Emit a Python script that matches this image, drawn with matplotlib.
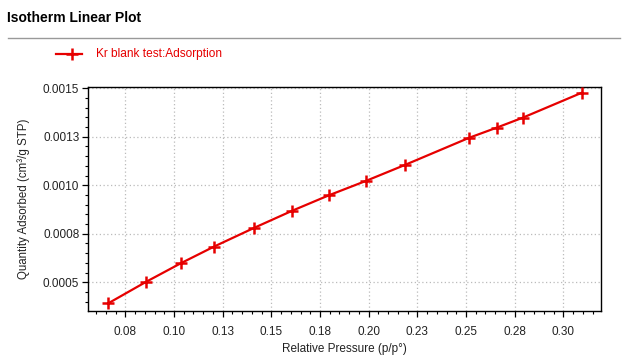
import matplotlib
matplotlib.use("Agg")
import matplotlib.pyplot as plt
from matplotlib.ticker import MultipleLocator, FixedLocator, FixedFormatter
from matplotlib.lines import Line2D

plt.rcParams['font.family'] = ['Liberation Sans', 'DejaVu Sans']

# Kr blank test, adsorption branch
rel_pressure = [0.0663, 0.0858, 0.1035, 0.1206, 0.1413, 0.1608, 0.1795,
                0.1985, 0.2187, 0.2517, 0.2658, 0.2791, 0.3095]
qty_adsorbed = [0.000392, 0.000503, 0.000598, 0.000684, 0.000781, 0.000869, 0.000948,
                0.001022, 0.001105, 0.001245, 0.001297, 0.001348, 0.001477]

x_ticks = [0.075, 0.100, 0.125, 0.150, 0.175, 0.200, 0.225, 0.250, 0.275, 0.300]
x_tick_labels = ["0.08", "0.10", "0.13", "0.15", "0.18", "0.20", "0.23", "0.25", "0.28", "0.30"]
y_ticks = [0.0005, 0.00075, 0.0010, 0.00125, 0.0015]
y_tick_labels = ["0.0005", "0.0008", "0.0010", "0.0013", "0.0015"]

RED = "#e60000"

fig = plt.figure(figsize=(6.25, 3.56), dpi=100)
ax = fig.add_axes([0.1413, 0.1264, 0.8208, 0.6301])

ax.plot(rel_pressure, qty_adsorbed, color=RED, lw=1.6, marker="+", ms=8, mew=1.8, zorder=3)

ax.set_xlim(0.0560, 0.3195)
ax.set_ylim(0.000352, 0.001508)

ax.xaxis.set_major_locator(FixedLocator(x_ticks))
ax.xaxis.set_major_formatter(FixedFormatter(x_tick_labels))
ax.xaxis.set_minor_locator(MultipleLocator(0.005))
ax.yaxis.set_major_locator(FixedLocator(y_ticks))
ax.yaxis.set_major_formatter(FixedFormatter(y_tick_labels))
ax.yaxis.set_minor_locator(MultipleLocator(0.00005))

ax.tick_params(which="major", direction="out", length=4.5, width=0.9, labelsize=8.5,
               labelcolor="#222222", pad=2)
ax.tick_params(which="minor", direction="out", length=2.2, width=0.8)
ax.tick_params(axis="x", pad=6)

ax.grid(True, which="major", color="#bbbbbb", ls=(0, (1, 2)), lw=0.9, zorder=0)
for s in ax.spines.values():
    s.set_linewidth(1.0)
    s.set_color("black")

ax.set_xlabel("Relative Pressure (p/p°)", fontsize=8.5, color="#222222", labelpad=4)
ax.set_ylabel("Quantity Adsorbed (cm³/g STP)", fontsize=8.3, color="#222222", labelpad=9)

# header
fig.text(0.0115, 0.950, "Isotherm Linear Plot", fontsize=10, fontweight="bold",
         ha="left", va="center")
fig.add_artist(Line2D([0.013, 0.992], [0.892, 0.892], color="#999999", lw=1.0))

# legend entry
fig.add_artist(Line2D([0.0896, 0.1312], [0.8475, 0.8475], color=RED, lw=1.6))
fig.add_artist(Line2D([0.1152], [0.8475], color=RED, marker="+", ms=8, mew=1.8))
fig.text(0.153, 0.8475, "Kr blank test:Adsorption", fontsize=8.6, color=RED,
         ha="left", va="center")

fig.savefig("out.png", dpi=100)
